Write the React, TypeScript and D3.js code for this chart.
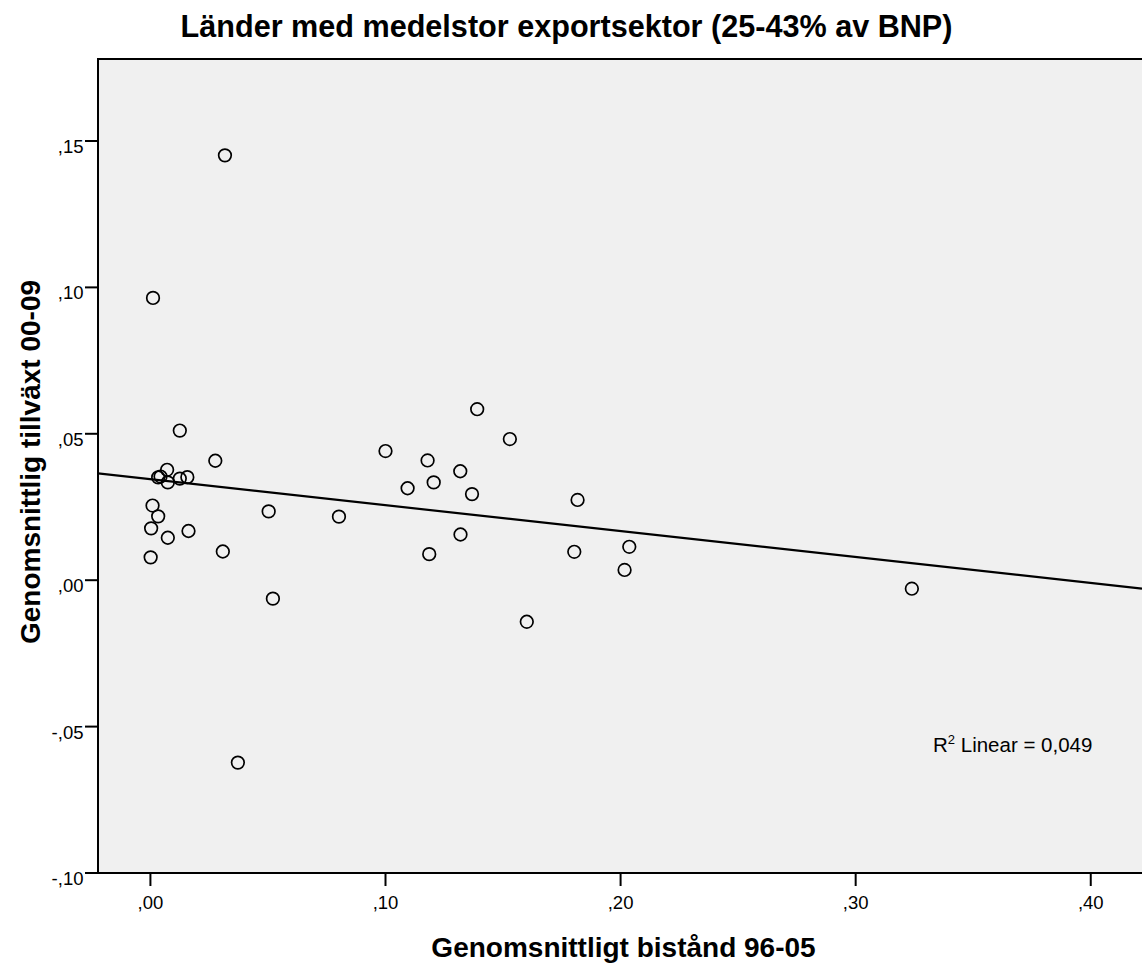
import React from "react";
import * as d3 from "d3";

const xValues = [
  0.0317, 0.0011, 0.0521, 0.0372, 0.0802, 0.0125, 0.0276, 0.0071, 0.0033, 0.0043,
  0.0074, 0.0125, 0.0157, 0.0009, 0.0033, 0.0003, 0.0074, 0.0162, 0.0001, 0.0308,
  0.0503, 0.139, 0.1529, 0.1, 0.1179, 0.1318, 0.1205, 0.1094, 0.1368, 0.1817,
  0.1319, 0.1186, 0.1803, 0.2037, 0.2017, 0.1601, 0.3239,
];
const yValues = [
  0.1451, 0.0964, -0.0063, -0.0623, 0.0217, 0.0511, 0.0408, 0.0377, 0.0351, 0.0354,
  0.0334, 0.0347, 0.0352, 0.0255, 0.0218, 0.0177, 0.0145, 0.0168, 0.0078, 0.0098,
  0.0235, 0.0584, 0.0482, 0.0441, 0.0409, 0.0372, 0.0334, 0.0314, 0.0294, 0.0274,
  0.0156, 0.0089, 0.0097, 0.0114, 0.0035, -0.0142, -0.0029,
];
const xTicks = [0, 0.1, 0.2, 0.3, 0.4];
const yTicks = [-0.1, -0.05, 0, 0.05, 0.1, 0.15];
const title = "Länder med medelstor exportsektor (25-43% av BNP)";
const xTitle = "Genomsnittligt bistånd 96-05";
const yTitle = "Genomsnittlig tillväxt 00-09";
const r2Text = "0,049";

const fmt = (v: number) => {
  const s = Math.abs(v).toFixed(2).replace("0.", ",");
  return (v < 0 ? "-" : "") + s;
};

export default function App() {
  const W = 1142, H = 965;
  const L = 98, R = 1142, T = 59, B = 873;
  const x = d3.scaleLinear().domain([-0.0223, 0.4218]).range([L, R]);
  const y = d3.scaleLinear().domain([-0.1, 0.178]).range([B, T]);

  const n = xValues.length;
  const mx = d3.mean(xValues)!;
  const my = d3.mean(yValues)!;
  let sxy = 0, sxx = 0;
  for (let i = 0; i < n; i++) {
    sxy += (xValues[i] - mx) * (yValues[i] - my);
    sxx += (xValues[i] - mx) ** 2;
  }
  const slope = sxy / sxx;
  const intercept = my - slope * mx;
  const x0 = x.domain()[0], x1 = x.domain()[1];
  const line = d3.line<[number, number]>().x((d) => x(d[0])).y((d) => y(d[1]));
  const fitPts: [number, number][] = [
    [x0, intercept + slope * x0],
    [x1, intercept + slope * x1],
  ];

  const font = "'Liberation Sans', Arial, sans-serif";
  return (
    <svg width={W} height={H} style={{ position: "absolute", left: 0, top: 0, background: "#fff" }} fontFamily={font}>
      <defs>
        <clipPath id="plotclip">
          <rect x={L} y={T} width={R - L} height={B - T} />
        </clipPath>
      </defs>
      <rect x={L} y={T} width={R - L} height={B - T} fill="#f0f0f0" />
      <text x={566.5} y={37} textAnchor="middle" fontSize={30.6} fontWeight="bold" fill="#000">
        {title}
      </text>
      <g clipPath="url(#plotclip)">
        <path d={line(fitPts)!} stroke="#000" strokeWidth={2.2} fill="none" />
        {xValues.map((xv, i) => (
          <circle key={i} cx={x(xv)} cy={y(yValues[i])} r={6.3} fill="none" stroke="#000" strokeWidth={1.7} />
        ))}
      </g>
      <line x1={L} y1={T} x2={R} y2={T} stroke="#000" strokeWidth={2} />
      <line x1={L} y1={T - 1} x2={L} y2={B + 1} stroke="#000" strokeWidth={2} />
      <line x1={L - 1} y1={B} x2={R} y2={B} stroke="#000" strokeWidth={2} />
      {yTicks.map((t) => (
        <g key={"y" + t}>
          <line x1={L - 13} x2={L} y1={y(t)} y2={y(t)} stroke="#000" strokeWidth={2} />
          <text x={L - 14.5} y={y(t) + 12} textAnchor="end" fontSize={18.5} fill="#000">
            {fmt(t)}
          </text>
        </g>
      ))}
      {xTicks.map((t) => (
        <g key={"x" + t}>
          <line x1={x(t)} x2={x(t)} y1={B} y2={B + 13} stroke="#000" strokeWidth={2} />
          <text x={x(t)} y={908.5} textAnchor="middle" fontSize={18.5} fill="#000">
            {fmt(t)}
          </text>
        </g>
      ))}
      <text x={623.5} y={957} textAnchor="middle" fontSize={28} fontWeight="bold" fill="#000">
        {xTitle}
      </text>
      <text transform="translate(40,462) rotate(-90)" textAnchor="middle" fontSize={28} fontWeight="bold" fill="#000">
        {yTitle}
      </text>
      <text x={933} y={751.5} fontSize={20.5} fill="#000">
        R<tspan fontSize={13} dy={-8}>2</tspan>
        <tspan dy={8}>{" Linear = " + r2Text}</tspan>
      </text>
    </svg>
  );
}
